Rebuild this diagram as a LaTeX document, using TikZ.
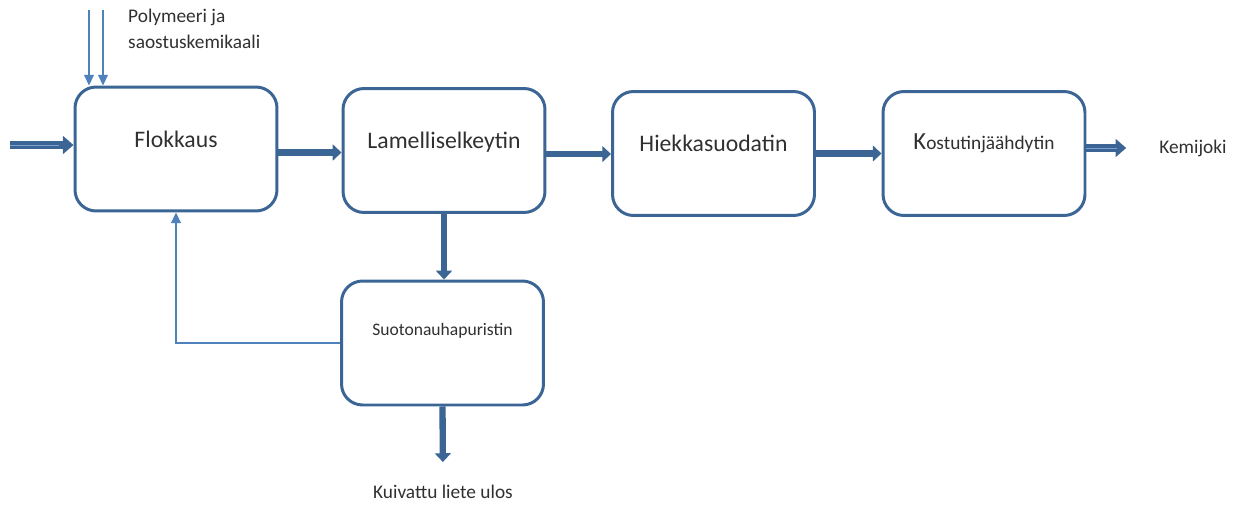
\documentclass[tikz,border=0pt]{standalone}
\usepackage{fontspec}
\setmainfont{Carlito}
\usetikzlibrary{arrows.meta}
\definecolor{boxblue}{HTML}{3A6595}
\definecolor{lineblue}{HTML}{4F81BD}
\definecolor{txtgray}{HTML}{303030}

\begin{document}
\begin{tikzpicture}
	[x=0.02cm, y=-0.02cm,
	every node/.style={text=txtgray},
	unit/.style={draw=boxblue, line width=1.7pt, rounded corners=0.42cm,
		minimum width=4.04cm, minimum height=2.48cm, inner sep=0pt,
		text height=0.3cm, text depth=0.38cm, font=\fontsize{13.5}{16}\selectfont},
	flow/.style={draw=boxblue, line width=3.6pt, -{Triangle[length=5pt,width=9pt]}},
	pipe/.style={draw=lineblue!75, line width=0.5pt},
	feed/.style={draw=lineblue, line width=0.8pt, -{Triangle[length=6pt,width=5.5pt]}},
	lbl/.style={font=\fontsize{11}{14.5}\selectfont}]
	\useasboundingbox (0,0) rectangle (1243,504);
	% process units
	\node (flok) [unit] at (176,149) {Flokkaus};
	\node (lam) [unit] at (444,150.5) {Lamelliselkeytin};
	\node (hiek) [unit] at (713.5,153.5) {Hiekkasuodatin};
	\node (kost) [unit, font=\fontsize{11}{14}\selectfont, text depth=0.45cm] at (984,153.5)
		{{\fontsize{14}{14}\selectfont K}ostutinjäähdytin};
	\node (suot) [unit, font=\fontsize{10}{12}\selectfont, text depth=0.6cm] at (442.5,343) {Suotonauhapuristin};
	% labels
	\node (kemi) [lbl] at (1193,148) {Kemijoki};
	\node (liete) [lbl] at (443,492) {Kuivattu liete ulos};
	\node (chem) [lbl, align=left, anchor=north west] at (122,3) {Polymeeri ja\\saostuskemikaali};
	\coordinate (in) at (10,145);
	\coordinate (c1) at (89,10);
	\coordinate (c2) at (103,10);
	% main flow
	\draw [flow, line width=4.4pt, -{Triangle[length=6pt,width=10pt]}] (in) -- (in -| flok.west);
	\draw [pipe] (in) -- ([xshift=-8pt]in -| flok.west);
	\draw [flow] ([yshift=-2pt]flok.east) -- ([yshift=-2pt]flok.east -| lam.west);
	\draw [flow] ([yshift=-2pt]lam.east) -- ([yshift=-2pt]lam.east -| hiek.west);
	\draw [flow] (hiek.east) -- (kost.west);
	\draw [flow, line width=4.4pt, -{Triangle[length=6pt,width=10pt]}, shorten >=0.54cm] (kost.east |- kemi) -- (kemi.west);
	\draw [pipe] (kost.east |- kemi) -- ([xshift=-0.72cm]kemi.west);
	\draw [flow] (lam.south) -- (lam.south |- suot.north);
	\draw [flow, shorten >=0.34cm] (suot.south) -- (liete.north);
	% chemicals and filtrate return
	\draw [feed] (c1) -- (c1 |- flok.north);
	\draw [feed] (c2) -- (c2 |- flok.north);
	\draw [feed] (suot.west) -| (flok.south);
\end{tikzpicture}
\end{document}
